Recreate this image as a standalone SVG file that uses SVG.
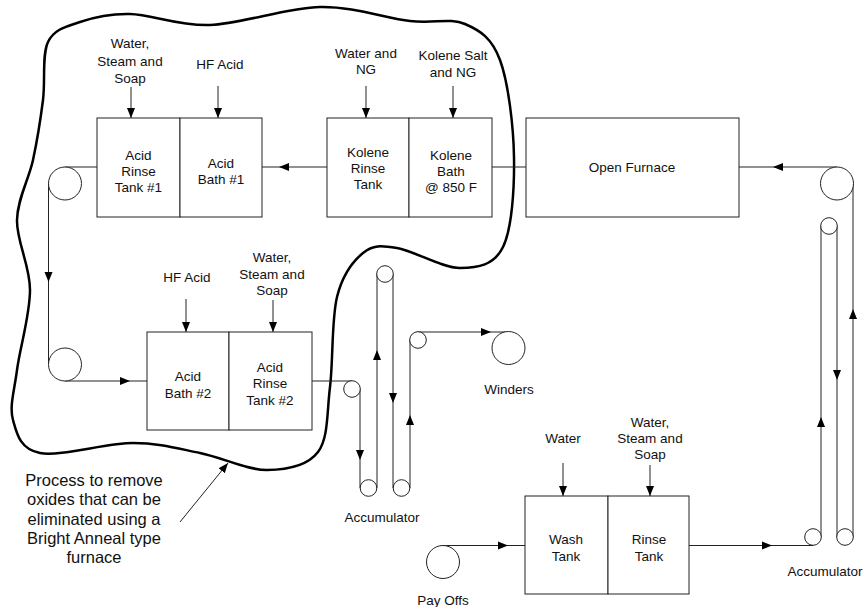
<svg xmlns="http://www.w3.org/2000/svg" xmlns:xlink="http://www.w3.org/1999/xlink" width="864" height="607" viewBox="0 0 864 607">
<style>
.box{fill:#fff;stroke:#222;stroke-width:1}
.roll{fill:#fff;stroke:#222;stroke-width:1}
.ln{fill:none;stroke:#222;stroke-width:1}
.feed{fill:none;stroke:#222;stroke-width:1;marker-end:url(#tip)}
.blob{fill:none;stroke:#000;stroke-width:2.5}
text{font-family:"Liberation Sans",Arial,sans-serif;font-size:13.5px;fill:#111;text-anchor:middle}
.note{font-size:16.5px}
</style>
<defs>
<marker id="tip" markerUnits="userSpaceOnUse" markerWidth="12" markerHeight="10" refX="10" refY="4" orient="auto">
<path d="M0,0 L10,4 L0,8 Z" fill="#000"/>
</marker>
<path id="ah" d="M0,0 L-10,-4 L-10,4 Z" fill="#000"/>
</defs>
<rect width="864" height="607" fill="#fff"/>

<g id="boundary">
<path class="blob" d="M48,42 C54.2,29 66.3,26.7 80,22 C93.7,17.3 108.3,13.5 130,14 C151.7,14.5 178.3,26.2 210,25 C241.7,23.8 286.7,7.7 320,7 C353.3,6.3 385.8,18.2 410,21 C434.2,23.8 450,17.5 465,24 C480,30.5 491.8,37.8 500,60 C508.2,82.2 513.5,125.8 514,157 C514.5,188.2 512,228.5 503,247 C494,265.5 477.7,267.8 460,268 C442.3,268.2 413.2,250.5 397,248 C380.8,245.5 373,244.8 363,253 C353,261.2 342.5,274.7 337,297 C331.5,319.3 333.2,361.2 330,387 C326.8,412.8 328.5,438.2 318,452 C307.5,465.8 286.7,469.8 267,470 C247.3,470.2 222.3,457.5 200,453 C177.7,448.5 159.7,443 133,443 C106.3,443 60,456.8 40,453 C20,449.2 16.8,433.8 13,420 C9.2,406.2 14.2,391.7 17,370 C19.8,348.3 30,315 30,290 C30,265 16.5,241.7 17,220 C17.5,198.3 28.7,180 33,160 C37.3,140 40.5,119.7 43,100 C45.5,80.3 41.8,55 48,42 Z"/>
</g>

<g id="connectors">
<!-- strip path -->
<path class="ln" d="M443,545.5 H525"/>
<path class="ln" d="M689,545.5 H813"/>
<path class="ln" d="M821,537 V226"/>
<path class="ln" d="M837,226 V537"/>
<path class="ln" d="M853,537 V183"/>
<path class="ln" d="M837,167 H739"/>
<path class="ln" d="M526,167 H492"/>
<path class="ln" d="M327,167 H262"/>
<path class="ln" d="M97,167 H65"/>
<path class="ln" d="M48.5,183 V364"/>
<path class="ln" d="M65,381 H147"/>
<path class="ln" d="M312,381 H352"/>
<path class="ln" d="M360,389 V488"/>
<path class="ln" d="M377,488 V274"/>
<path class="ln" d="M393,274 V488"/>
<path class="ln" d="M410,488 V340"/>
<path class="ln" d="M418,332 H508"/>
<!-- mid arrows -->
<use xlink:href="#ah" transform="translate(508,545.5)"/>
<use xlink:href="#ah" transform="translate(772,545.5)"/>
<use xlink:href="#ah" transform="translate(821,417) rotate(-90)"/>
<use xlink:href="#ah" transform="translate(837,380) rotate(90)"/>
<use xlink:href="#ah" transform="translate(853,309) rotate(-90)"/>
<use xlink:href="#ah" transform="translate(773,167) rotate(180)"/>
<use xlink:href="#ah" transform="translate(279,167) rotate(180)"/>
<use xlink:href="#ah" transform="translate(48.5,282) rotate(90)"/>
<use xlink:href="#ah" transform="translate(130,381)"/>
<use xlink:href="#ah" transform="translate(360,460) rotate(90)"/>
<use xlink:href="#ah" transform="translate(377,350) rotate(-90)"/>
<use xlink:href="#ah" transform="translate(393,403) rotate(90)"/>
<use xlink:href="#ah" transform="translate(410,415) rotate(-90)"/>
<use xlink:href="#ah" transform="translate(491,332)"/>
<!-- feeds -->
<line class="feed" x1="131" y1="87" x2="131" y2="118"/>
<line class="feed" x1="218" y1="86" x2="218" y2="118"/>
<line class="feed" x1="366" y1="86" x2="366" y2="118"/>
<line class="feed" x1="453" y1="86" x2="453" y2="118"/>
<line class="feed" x1="186" y1="299" x2="186" y2="332"/>
<line class="feed" x1="273" y1="300" x2="273" y2="332"/>
<line class="feed" x1="563" y1="463" x2="563" y2="496"/>
<line class="feed" x1="650" y1="465" x2="650" y2="496"/>
<line class="feed" x1="180" y1="522" x2="228" y2="463"/>
</g>

<g id="acid-tanks-1">
<rect class="box" x="97" y="118" width="83" height="99"/>
<rect class="box" x="180" y="118" width="82" height="99"/>
<text x="138.5" y="160">Acid</text><text x="138.5" y="176">Rinse</text><text x="138.5" y="192">Tank #1</text>
<text x="221" y="168">Acid</text><text x="221" y="184">Bath #1</text>
</g>
<g id="kolene-tanks">
<rect class="box" x="327" y="118" width="82" height="99"/>
<rect class="box" x="409" y="118" width="83" height="99"/>
<text x="368" y="157">Kolene</text><text x="368" y="173">Rinse</text><text x="368" y="189">Tank</text>
<text x="451" y="160">Kolene</text><text x="451" y="176">Bath</text><text x="451" y="192">@ 850 F</text>
</g>
<g id="open-furnace">
<rect class="box" x="526" y="118" width="213" height="99"/>
<text x="632" y="172">Open Furnace</text>
</g>
<g id="acid-tanks-2">
<rect class="box" x="147" y="332" width="82" height="98"/>
<rect class="box" x="229" y="332" width="83" height="98"/>
<text x="188" y="381">Acid</text><text x="188" y="398">Bath #2</text>
<text x="270" y="372">Acid</text><text x="270" y="388">Rinse</text><text x="270" y="405">Tank #2</text>
</g>
<g id="wash-rinse">
<rect class="box" x="525" y="496" width="83" height="98"/>
<rect class="box" x="608" y="496" width="81" height="98"/>
<text x="566" y="544">Wash</text><text x="566" y="561">Tank</text>
<text x="649" y="544">Rinse</text><text x="649" y="561">Tank</text>
</g>

<g id="feed-labels">
<text x="130" y="48">Water,</text><text x="130" y="65.5">Steam and</text><text x="130" y="83">Soap</text>
<text x="220" y="69">HF Acid</text>
<text x="366" y="58">Water and</text><text x="366" y="74">NG</text>
<text x="453" y="60">Kolene Salt</text><text x="453" y="77">and NG</text>
<text x="187" y="282">HF Acid</text>
<text x="272" y="262">Water,</text><text x="272" y="279">Steam and</text><text x="272" y="295">Soap</text>
<text x="563" y="443">Water</text>
<text x="650" y="427">Water,</text><text x="650" y="443">Steam and</text><text x="650" y="459">Soap</text>
</g>

<g id="rollers-left">
<circle class="roll" cx="65" cy="183.5" r="16.5"/>
<circle class="roll" cx="65" cy="364.5" r="16.5"/>
</g>
<g id="accumulator-mid">
<circle class="roll" cx="352" cy="389" r="8.3"/>
<circle class="roll" cx="368.5" cy="488" r="8.3"/>
<circle class="roll" cx="385" cy="274" r="8.3"/>
<circle class="roll" cx="401.5" cy="488" r="8.3"/>
<circle class="roll" cx="418" cy="340" r="8.3"/>
<text x="382" y="522">Accumulator</text>
</g>
<g id="winders">
<circle class="roll" cx="508.5" cy="348" r="16.5"/>
<text x="509" y="394">Winders</text>
</g>
<g id="accumulator-right">
<circle class="roll" cx="813" cy="537" r="8.3"/>
<circle class="roll" cx="845" cy="537" r="8.3"/>
<circle class="roll" cx="829" cy="226" r="8.3"/>
<circle class="roll" cx="837" cy="183.5" r="16.5"/>
<text x="825" y="576">Accumulator</text>
</g>
<g id="payoffs">
<circle class="roll" cx="443" cy="562" r="16.5"/>
<text x="443" y="605">Pay Offs</text>
</g>
<g id="note">
<text class="note" x="94" y="486">Process to remove</text>
<text class="note" x="94" y="505">oxides that can be</text>
<text class="note" x="94" y="525">eliminated using a</text>
<text class="note" x="94" y="544">Bright Anneal type</text>
<text class="note" x="94" y="563">furnace</text>
</g>
</svg>
